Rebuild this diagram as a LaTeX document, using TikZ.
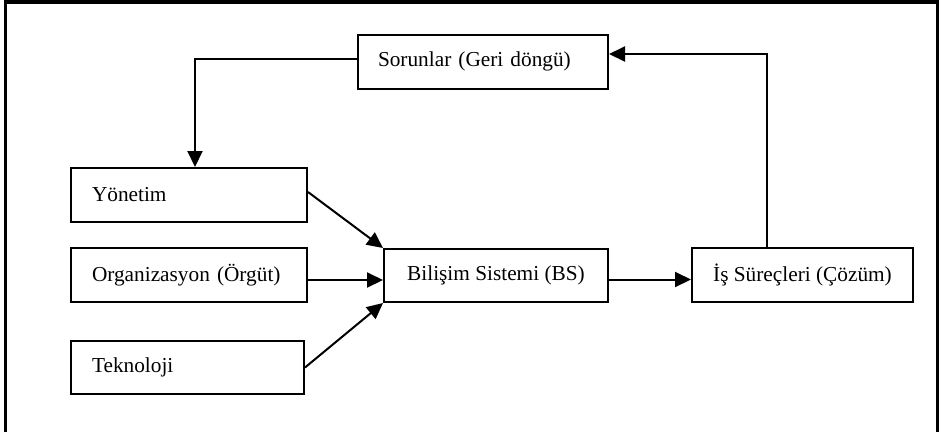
\documentclass[tikz,border=0pt]{standalone}
\usepackage{fontspec}
\setmainfont{Liberation Serif}
\usetikzlibrary{arrows.meta,calc}
\begin{document}
\begin{tikzpicture}[x=1pt,y=-1pt,
  box/.style={draw, line width=2pt, inner sep=0pt, minimum height=54pt,
    font=\fontsize{21.3}{25}\selectfont},
  arr/.style={line width=2pt, -{Triangle[length=16pt,width=15pt]}}]
\useasboundingbox (0,0) rectangle (941,432);
\draw[line width=3.5pt] (5.5,432) -- (5.5,2) -- (937.5,2) -- (937.5,432);

\node[box, minimum width=250pt, text width=210pt, align=left] (sor) at (483,61.5) {Sorunlar (Geri döngü)};
\node[box, minimum width=236pt, text width=194pt, align=left] (yon) at (189,195) {Yönetim};
\node[box, minimum width=236pt, text width=194pt, align=left] (org) at (189,275) {Organizasyon (Örgüt)};
\node[box, minimum width=233pt, minimum height=53pt, text width=191pt, align=left] (tek) at (187.5,367.5) {Teknoloji};
\node[box, minimum width=224pt, minimum height=53pt] (bs) at (496,275.5) {Bilişim Sistemi (BS)};
\node[box, minimum width=221pt] (is) at (802.5,275) {İş Süreçleri (Çözüm)};

\coordinate (c1) at (195,59);
\coordinate (c2) at (767,54);
\draw[arr] (sor.west |- c1) -- (c1) -- (c1 |- yon.north);
\draw[arr] (c2 |- is.north) -- (c2) -- (sor.east |- c2);

\draw[arr] ([yshift=3pt]yon.east) -- (bs.north west);
\draw[arr] ([yshift=-5pt]org.east) -- ([yshift=-5pt]org.east -| bs.west);
\draw[arr] (tek.east) -- (bs.south west);
\draw[arr] ([yshift=-4pt]bs.east) -- ([yshift=-4pt]bs.east -| is.west);
\end{tikzpicture}
\end{document}
